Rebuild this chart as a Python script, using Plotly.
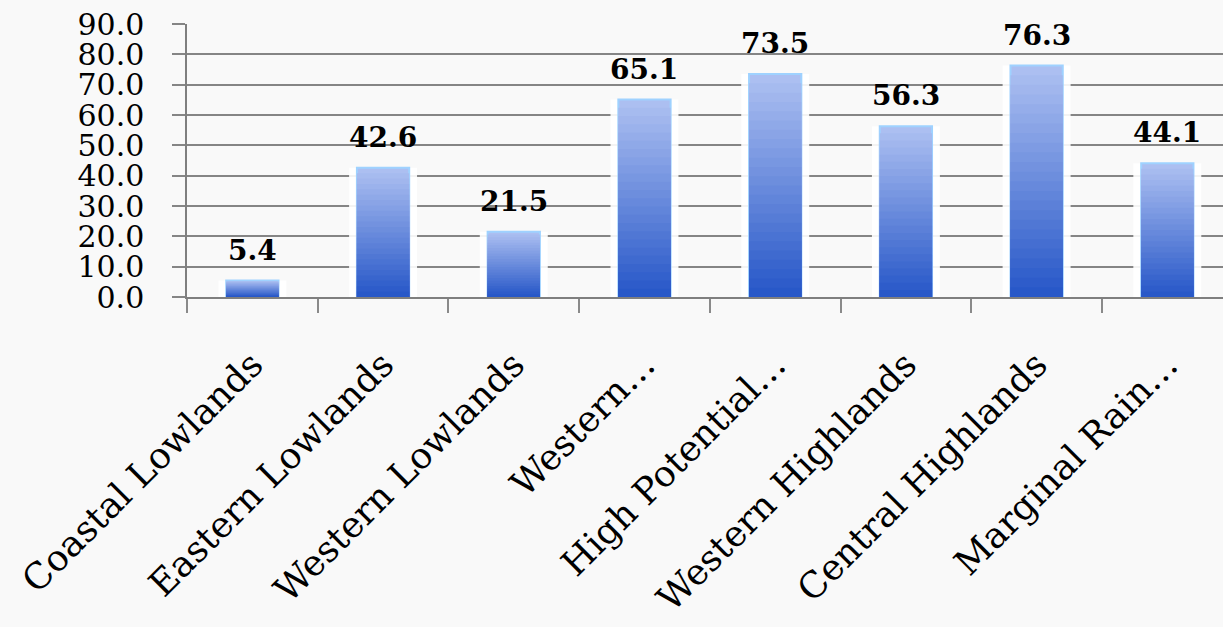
import plotly.graph_objects as go

regions = ["Coastal Lowlands", "Eastern Lowlands", "Western Lowlands", "Western…",
           "High Potential…", "Western Highlands", "Central Highlands", "Marginal Rain…"]
values = [5.4, 42.6, 21.5, 65.1, 73.5, 56.3, 76.3, 44.1]
y_ticks = [0, 10, 20, 30, 40, 50, 60, 70, 80, 90]

FONT = "DejaVu Serif"
TOP = (172, 191, 241)
BOTTOM = (40, 88, 200)
STEPS = 24

fig = go.Figure()

# soft white halo behind each bar, hiding the gridlines at its sides
fig.add_trace(go.Bar(x=regions, y=values, width=0.52,
                     marker=dict(color="rgba(255,255,255,0.9)", line=dict(width=0)),
                     hoverinfo="skip", showlegend=False))

# vertical gradient: stacked overlays, each shorter and darker than the last
for k in range(STEPS):
    t = k / (STEPS - 1)
    r, g, b = (round(TOP[i] + (BOTTOM[i] - TOP[i]) * t) for i in range(3))
    frac = 1 - k / STEPS
    line = dict(color="#9fd2ff", width=2) if k == 0 else dict(width=0)
    fig.add_trace(go.Bar(x=regions, y=[v * frac for v in values], width=0.4,
                         marker=dict(color=f"rgb({r},{g},{b})", line=line),
                         hoverinfo="skip", showlegend=False))

for name, v in zip(regions, values):
    fig.add_annotation(x=name, y=v, text=f"<b>{v:.1f}</b>", showarrow=False,
                       yanchor="bottom", yshift=12,
                       font=dict(family=FONT, size=28, color="#000000"))

fig.update_layout(
    width=1223, height=627,
    margin=dict(l=187, r=0, t=24, b=330),
    barmode="overlay",
    paper_bgcolor="#f9f9f9",
    plot_bgcolor="rgba(0,0,0,0)",
    showlegend=False,
)
fig.update_xaxes(
    range=[-0.5, 7.426],
    showgrid=False,
    showline=True, linecolor="#7f7f7f", linewidth=2,
    ticks="outside", tickson="boundaries", ticklen=14, tickcolor="#8a8a8a", tickwidth=1.5,
    tickangle=-45,
    ticklabelstandoff=30,
    tickfont=dict(family=FONT, size=36, color="#000000"),
)
fig.update_yaxes(
    range=[0, 90],
    tickvals=y_ticks, ticktext=[f"{v:.1f}" for v in y_ticks],
    showgrid=True, gridcolor="#858585", gridwidth=1.5,
    showline=True, linecolor="#7f7f7f", linewidth=1.5,
    ticks="outside", ticklen=13, tickcolor="#858585", tickwidth=1.5,
    ticklabelstandoff=22,
    tickfont=dict(family=FONT, size=30, color="#000000"),
    zeroline=False,
)

fig.write_html("out.html")
